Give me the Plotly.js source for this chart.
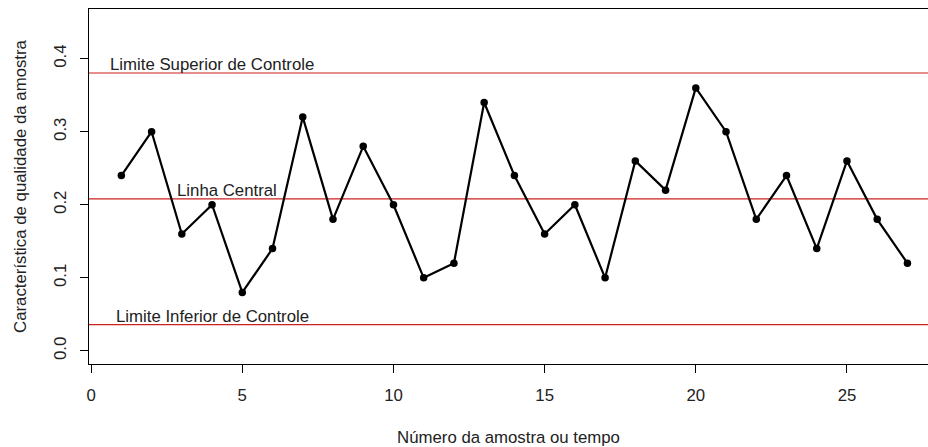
<!DOCTYPE html>
<html>
<head>
<meta charset="utf-8">
<script src="https://cdn.plot.ly/plotly-3.0.1.min.js"></script>
<style>
  html, body { margin: 0; padding: 0; background: #fff; overflow: hidden; }
  #chart { width: 928px; height: 447px; }
</style>
</head>
<body>
<div id="chart"></div>
<script>
// Sample numbers and the fraction observed in each sample
const amostra = [1, 2, 3, 4, 5, 6, 7, 8, 9, 10, 11, 12, 13, 14, 15, 16, 17, 18, 19, 20, 21, 22, 23, 24, 25, 26, 27];
const fracao = [0.24, 0.30, 0.16, 0.20, 0.08, 0.14, 0.32, 0.18, 0.28, 0.20, 0.10, 0.12, 0.34, 0.24,
                0.16, 0.20, 0.10, 0.26, 0.22, 0.36, 0.30, 0.18, 0.24, 0.14, 0.26, 0.18, 0.12];

// Control chart limits
const limiteNomes = ["Limite Superior de Controle", "Linha Central", "Limite Inferior de Controle"];
const limiteValores = [0.3804, 0.2081, 0.0359];
const limiteRotuloX = [4, 4.5, 4];

const xTicks = [0, 5, 10, 15, 20, 25];
const yTicks = [0.0, 0.1, 0.2, 0.3, 0.4];
const yTickText = ["0.0", "0.1", "0.2", "0.3", "0.4"];

const fonte = "'Liberation Sans', Arial, sans-serif";
const corTexto = "#222";
const xRange = [-0.07, 27.68];

const traces = [];

// Horizontal control lines spanning the full plot width
limiteValores.forEach(function (v, i) {
  traces.push({
    x: xRange, y: [v, v],
    mode: "lines", type: "scatter",
    line: { color: "#cc1f1f", width: 1.2 },
    hoverinfo: "skip", showlegend: false,
    name: limiteNomes[i]
  });
});

// Observed sample values
traces.push({
  x: amostra, y: fracao,
  mode: "lines+markers", type: "scatter",
  line: { color: "#000", width: 2.2 },
  marker: { color: "#000", size: 7.5 },
  showlegend: false
});

const annotations = limiteNomes.map(function (nome, i) {
  return {
    x: limiteRotuloX[i], y: limiteValores[i],
    xref: "x", yref: "y",
    text: nome, showarrow: false,
    xanchor: "center", yanchor: "bottom", yshift: -3,
    font: { family: fonte, size: 16.8, color: corTexto }
  };
});

const layout = {
  width: 928, height: 447,
  margin: { l: 89, r: 0, t: 9, b: 83 },
  paper_bgcolor: "#fff", plot_bgcolor: "#fff",
  showlegend: false,
  font: { family: fonte, size: 16.8, color: corTexto },
  xaxis: {
    range: xRange,
    tickvals: xTicks,
    ticks: "outside", ticklen: 8, tickwidth: 1, tickcolor: "#000",
    ticklabelstandoff: 8,
    showgrid: false, zeroline: false,
    showline: true, mirror: true, linecolor: "#000", linewidth: 1,
    title: { text: "Número da amostra ou tempo", standoff: 28, font: { family: fonte, size: 16.8, color: corTexto } }
  },
  yaxis: {
    range: [-0.018, 0.468],
    tickvals: yTicks, ticktext: yTickText,
    tickangle: -90,
    ticks: "outside", ticklen: 8, tickwidth: 1, tickcolor: "#000",
    ticklabelstandoff: 7,
    showgrid: false, zeroline: false,
    showline: true, mirror: true, linecolor: "#000", linewidth: 1,
    title: { text: "Característica de qualidade da amostra", standoff: 20, font: { family: fonte, size: 16.8, color: corTexto } }
  },
  annotations: annotations
};

Plotly.newPlot("chart", traces, layout, { displayModeBar: false, staticPlot: true });
</script>
</body>
</html>
